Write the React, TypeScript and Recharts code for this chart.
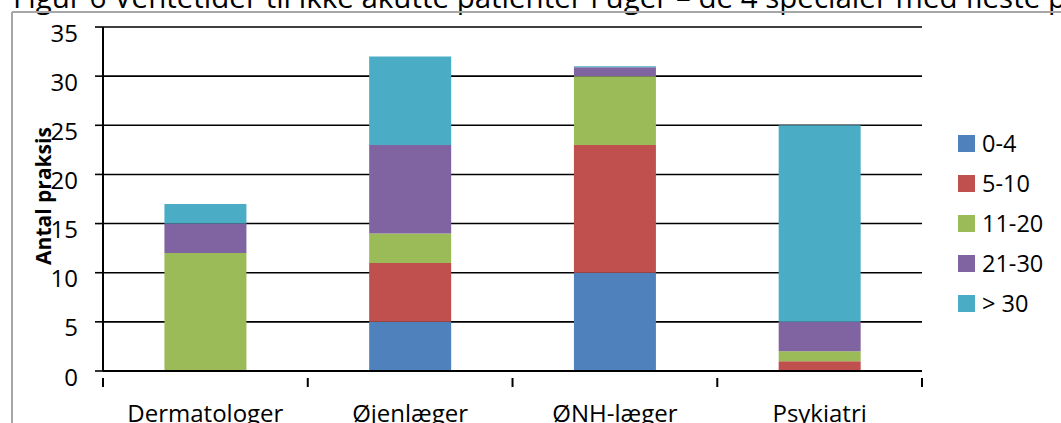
import { BarChart, Bar, XAxis, YAxis, CartesianGrid } from 'recharts';

const categories = ['Dermatologer', 'Øjenlæger', 'ØNH-læger', 'Psykiatri'];
const groups = ['0-4', '5-10', '11-20', '21-30', '> 30'];
const w0to4 = [0, 5, 10, 0];
const w5to10 = [0, 6, 13, 1];
const w11to20 = [12, 3, 7, 1];
const w21to30 = [3, 9, 0.9, 3];
const wOver30 = [2, 9, 0.1, 20];
const yTicks = [0, 5, 10, 15, 20, 25, 30, 35];

const COLORS = ['#4F81BD', '#C0504D', '#9BBB59', '#8064A2', '#4BACC6'];
const FONT = '"Open Sans", sans-serif';
const HALF_BAND = 102.4;

const series = [w0to4, w5to10, w11to20, w21to30, wOver30];
const data = categories.map((name, i) => {
  const row: Record<string, string | number> = { name };
  groups.forEach((g, k) => {
    row[g] = series[k][i];
  });
  return row;
});

function XTick(props: any) {
  const { x, y, payload, index } = props;
  return (
    <g>
      {index === 0 && (
        <line x1={x - HALF_BAND} x2={x - HALF_BAND} y1={y - 1} y2={y + 8} stroke="#000" strokeWidth={2} />
      )}
      <line x1={x + HALF_BAND} x2={x + HALF_BAND} y1={y - 1} y2={y + 8} stroke="#000" strokeWidth={2} />
      <text x={x} y={422} textAnchor="middle" fontSize={24} fontFamily={FONT} fill="#000">
        {payload.value}
      </text>
    </g>
  );
}

function YTick(props: any) {
  const { y, payload } = props;
  return (
    <text x={78} y={y + 14.5} textAnchor="end" fontSize={24} fontFamily={FONT} fill="#000">
      {payload.value}
    </text>
  );
}

function LegendBox() {
  return (
    <div style={{ position: 'absolute', left: 958, top: 123, fontFamily: FONT, fontSize: 23.5, color: '#000' }}>
      {groups.map((g, i) => (
        <div key={g} style={{ display: 'flex', alignItems: 'center', height: 40, whiteSpace: 'nowrap' }}>
          <span style={{ width: 17, height: 17, background: COLORS[i], display: 'inline-block', marginRight: 7 }} />
          <span>{g}</span>
        </div>
      ))}
    </div>
  );
}

export default function App() {
  return (
    <div style={{ position: 'fixed', left: 0, top: 0, width: 1061, height: 423, overflow: 'hidden', background: '#fff' }}>
      <svg width={1061} height={423} style={{ position: 'absolute', left: 0, top: 0 }}>
        <text x={13} y={8} fontSize={29.5} fontFamily={FONT} fill="#000">
          Figur 6 Ventetider til ikke akutte patienter i uger – de 4 specialer med fleste p
        </text>
        <line x1={12} x2={1061} y1={12} y2={12} stroke="#A6A6A6" strokeWidth={2} />
        <line x1={12} x2={12} y1={12} y2={423} stroke="#A6A6A6" strokeWidth={2} />
      </svg>
      <div style={{ position: 'absolute', left: 0, top: 0 }}>
        <BarChart
          width={1061}
          height={423}
          data={data}
          margin={{ top: 27, right: 139, bottom: 0, left: 0 }}
          barCategoryGap="30%"
        >
          <CartesianGrid vertical={false} stroke="#000" strokeWidth={1.6} />
          <XAxis
            dataKey="name"
            height={52}
            axisLine={{ stroke: '#000', strokeWidth: 2 }}
            tickLine={false}
            tick={<XTick />}
            interval={0}
          />
          <YAxis
            width={103}
            domain={[0, 35]}
            ticks={yTicks}
            interval={0}
            axisLine={{ stroke: '#000', strokeWidth: 2 }}
            tickLine={{ stroke: '#000', strokeWidth: 1.6 }}
            tickSize={8}
            tick={<YTick />}
            label={({ viewBox }: any) => (
              <text
                x={0}
                y={0}
                transform={`translate(${viewBox.x + 51}, ${viewBox.y + viewBox.height / 2 - 3}) rotate(-90)`}
                textAnchor="middle"
                fontSize={21}
                fontWeight="bold"
                fontFamily={FONT}
                fill="#000"
              >
                Antal praksis
              </text>
            )}
          />
          {groups.map((g, i) => (
            <Bar key={g} dataKey={g} stackId="a" fill={COLORS[i]} isAnimationActive={false} />
          ))}
        </BarChart>
      </div>
      <LegendBox />
    </div>
  );
}
